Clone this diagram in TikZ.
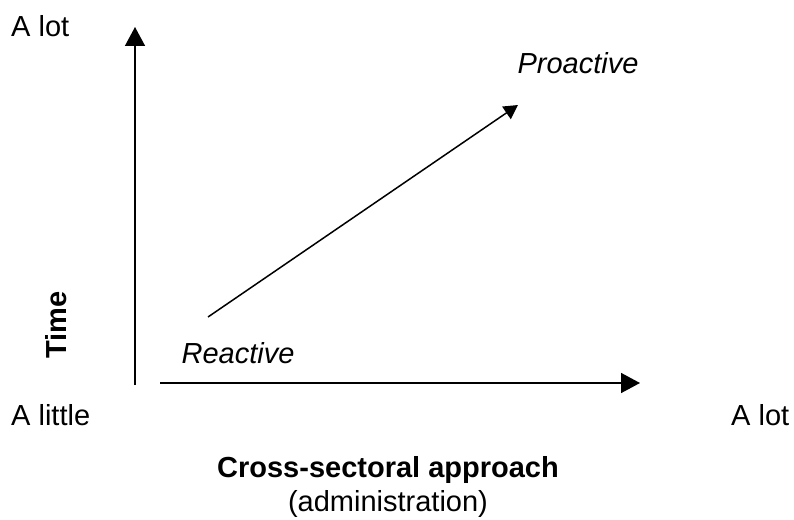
\documentclass[tikz,border=0pt]{standalone}
\usepackage{fontspec}
\setmainfont{Liberation Sans}
\usetikzlibrary{arrows.meta}
\begin{document}
\begin{tikzpicture}[x=1pt,y=-1pt,
  lbl/.style={inner sep=0pt,font=\fontsize{29}{34}\selectfont},
  lblit/.style={inner sep=0pt,font=\fontsize{29}{34}\selectfont\itshape},
  lblbf/.style={inner sep=0pt,font=\fontsize{29}{34}\selectfont\bfseries},
  axis/.style={line width=1.5pt,-{Triangle[width=20pt,length=19pt]}},
  trend/.style={line width=1.5pt,-{Triangle[width=15pt,length=14pt]}}]
\useasboundingbox (0,0) rectangle (794,519);
\coordinate (vstart) at (135,385);
\coordinate (vend) at (135,27);
\coordinate (hstart) at (160,383);
\coordinate (hend) at (640,383);
\coordinate (dstart) at (208,317);
\coordinate (dend) at (518,105);
\draw[axis] (vstart) -- (vend);
\draw[axis] (hstart) -- (hend);
\draw[trend] (dstart) -- (dend);
\node[lbl,anchor=base west] (alot1) at (11,37) {A lot};
\node[lbl,anchor=base west] (alittle) at (11,425) {A little};
\node[lbl,anchor=base west] (alot2) at (731,425) {A lot};
\node[lblit,anchor=base] (pro) at (578,74) {Proactive};
\node[lblit,anchor=base] (rea) at (238,363) {Reactive};
\node[lblbf,anchor=base,rotate=90] (time) at (66,325) {Time};
\node[lblbf,anchor=base] (csa) at (388,477) {Cross-sectoral approach};
\node[lbl,anchor=base] (adm) at (388,511) {(administration)};
\end{tikzpicture}
\end{document}
